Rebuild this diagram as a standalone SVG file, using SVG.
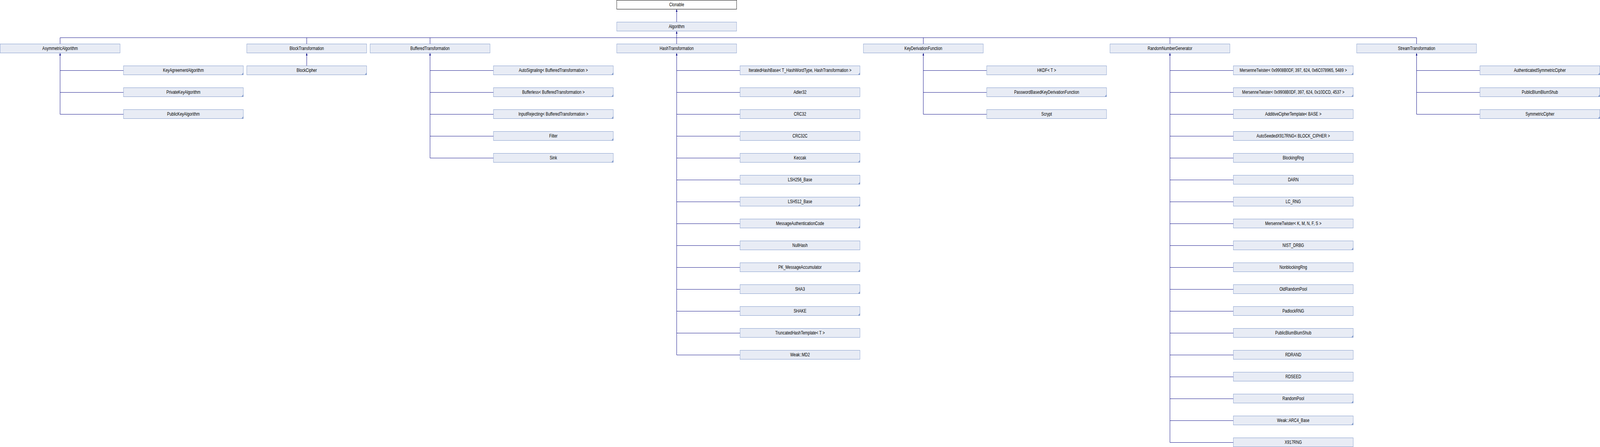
<svg xmlns="http://www.w3.org/2000/svg" xmlns:xlink="http://www.w3.org/1999/xlink" width="5099" height="1144" viewBox="0 0 5099 1144" preserveAspectRatio="none">
<style>
svg:root{width:100%;height:100%}
.n rect{fill:#E8ECF5;stroke:#849CCC;stroke-width:1}
.root rect{fill:#FFFFFF;stroke:#000000;stroke-width:1}
text{font-family:"Liberation Sans",Arial,sans-serif;font-size:12px;fill:#000000;text-anchor:middle}
.c path{fill:none;stroke:#000080;stroke-width:1}
.mk{fill:#849CCC}
.ar{fill:#000080}
</style>
<defs>
<path id="mk" d="M0,0 L0,-6 L-6,0 Z"/>
<path id="ar" d="M0,0.5 L-2.5,6.5 L2.5,6.5 Z"/>
</defs>
<rect x="0" y="0" width="5099" height="1144" fill="#FFFFFF"/>
<g id="connectors" class="c">
<path d="M2156.5,24 V56.5"/>
<path d="M2156.5,80 V96.5"/>
<path d="M191.5,96.5 H4514.5"/>
<path d="M191.5,96.5 V112.5 M977.5,96.5 V112.5 M1370.5,96.5 V112.5 M2156.5,96.5 V112.5 M2942.5,96.5 V112.5 M3728.5,96.5 V112.5 M4514.5,96.5 V112.5"/>
<path d="M191.5,136 V292.5 M191.5,180.5 H393.5 M191.5,236.5 H393.5 M191.5,292.5 H393.5"/>
<path d="M977.5,136 V168.5"/>
<path d="M1370.5,136 V404.5 M1370.5,180.5 H1572.5 M1370.5,236.5 H1572.5 M1370.5,292.5 H1572.5 M1370.5,348.5 H1572.5 M1370.5,404.5 H1572.5"/>
<path d="M2156.5,136 V908.5 M2156.5,180.5 H2358.5 M2156.5,236.5 H2358.5 M2156.5,292.5 H2358.5 M2156.5,348.5 H2358.5 M2156.5,404.5 H2358.5 M2156.5,460.5 H2358.5 M2156.5,516.5 H2358.5 M2156.5,572.5 H2358.5 M2156.5,628.5 H2358.5 M2156.5,684.5 H2358.5 M2156.5,740.5 H2358.5 M2156.5,796.5 H2358.5 M2156.5,852.5 H2358.5 M2156.5,908.5 H2358.5"/>
<path d="M2942.5,136 V292.5 M2942.5,180.5 H3144.5 M2942.5,236.5 H3144.5 M2942.5,292.5 H3144.5"/>
<path d="M3728.5,136 V1132.5 M3728.5,180.5 H3930.5 M3728.5,236.5 H3930.5 M3728.5,292.5 H3930.5 M3728.5,348.5 H3930.5 M3728.5,404.5 H3930.5 M3728.5,460.5 H3930.5 M3728.5,516.5 H3930.5 M3728.5,572.5 H3930.5 M3728.5,628.5 H3930.5 M3728.5,684.5 H3930.5 M3728.5,740.5 H3930.5 M3728.5,796.5 H3930.5 M3728.5,852.5 H3930.5 M3728.5,908.5 H3930.5 M3728.5,964.5 H3930.5 M3728.5,1020.5 H3930.5 M3728.5,1076.5 H3930.5 M3728.5,1132.5 H3930.5"/>
<path d="M4514.5,136 V292.5 M4514.5,180.5 H4716.5 M4514.5,236.5 H4716.5 M4514.5,292.5 H4716.5"/>
<use xlink:href="#ar" href="#ar" class="ar" x="2156.5" y="23.5"/>
<use xlink:href="#ar" href="#ar" class="ar" x="2156.5" y="79.5"/>
<use xlink:href="#ar" href="#ar" class="ar" x="191.5" y="135.5"/>
<use xlink:href="#ar" href="#ar" class="ar" x="977.5" y="135.5"/>
<use xlink:href="#ar" href="#ar" class="ar" x="1370.5" y="135.5"/>
<use xlink:href="#ar" href="#ar" class="ar" x="2156.5" y="135.5"/>
<use xlink:href="#ar" href="#ar" class="ar" x="2942.5" y="135.5"/>
<use xlink:href="#ar" href="#ar" class="ar" x="3728.5" y="135.5"/>
<use xlink:href="#ar" href="#ar" class="ar" x="4514.5" y="135.5"/>
</g>
<g id="Clonable" class="root"><rect x="1965.5" y="0.5" width="382" height="23"/><text x="2156.5" y="16.5">Clonable</text></g>
<g id="Algorithm" class="n"><rect x="1965.5" y="56.5" width="382" height="23"/><text x="2156.5" y="72.5">Algorithm</text></g>
<g id="AsymmetricAlgorithm" class="n"><rect x="0.5" y="112.5" width="382" height="23"/><text x="191.5" y="128.5">AsymmetricAlgorithm</text></g>
<g id="BlockTransformation" class="n"><rect x="786.5" y="112.5" width="382" height="23"/><text x="977.5" y="128.5">BlockTransformation</text></g>
<g id="BufferedTransformation" class="n"><rect x="1179.5" y="112.5" width="382" height="23"/><text x="1370.5" y="128.5">BufferedTransformation</text></g>
<g id="HashTransformation" class="n"><rect x="1965.5" y="112.5" width="382" height="23"/><text x="2156.5" y="128.5">HashTransformation</text></g>
<g id="KeyDerivationFunction" class="n"><rect x="2751.5" y="112.5" width="382" height="23"/><text x="2942.5" y="128.5">KeyDerivationFunction</text></g>
<g id="RandomNumberGenerator" class="n"><rect x="3537.5" y="112.5" width="382" height="23"/><text x="3728.5" y="128.5">RandomNumberGenerator</text></g>
<g id="StreamTransformation" class="n"><rect x="4323.5" y="112.5" width="382" height="23"/><text x="4514.5" y="128.5">StreamTransformation</text></g>

<g id="KeyAgreementAlgorithm" class="n"><rect x="393.5" y="168.5" width="382" height="23"/><text x="584.5" y="184.5">KeyAgreementAlgorithm</text><use href="#mk" xlink:href="#mk" class="mk" x="775.5" y="191.5"/></g>
<g id="PrivateKeyAlgorithm" class="n"><rect x="393.5" y="224.5" width="382" height="23"/><text x="584.5" y="240.5">PrivateKeyAlgorithm</text><use href="#mk" xlink:href="#mk" class="mk" x="775.5" y="247.5"/></g>
<g id="PublicKeyAlgorithm" class="n"><rect x="393.5" y="280.5" width="382" height="23"/><text x="584.5" y="296.5">PublicKeyAlgorithm</text><use href="#mk" xlink:href="#mk" class="mk" x="775.5" y="303.5"/></g>

<g id="BlockCipher" class="n"><rect x="786.5" y="168.5" width="382" height="23"/><text x="977.5" y="184.5">BlockCipher</text><use href="#mk" xlink:href="#mk" class="mk" x="1168.5" y="191.5"/></g>

<g id="AutoSignaling" class="n"><rect x="1572.5" y="168.5" width="382" height="23"/><text x="1763.5" y="184.5">AutoSignaling&lt; BufferedTransformation &gt;</text><use href="#mk" xlink:href="#mk" class="mk" x="1954.5" y="191.5"/></g>
<g id="Bufferless" class="n"><rect x="1572.5" y="224.5" width="382" height="23"/><text x="1763.5" y="240.5">Bufferless&lt; BufferedTransformation &gt;</text><use href="#mk" xlink:href="#mk" class="mk" x="1954.5" y="247.5"/></g>
<g id="InputRejecting" class="n"><rect x="1572.5" y="280.5" width="382" height="23"/><text x="1763.5" y="296.5">InputRejecting&lt; BufferedTransformation &gt;</text><use href="#mk" xlink:href="#mk" class="mk" x="1954.5" y="303.5"/></g>
<g id="Filter" class="n"><rect x="1572.5" y="336.5" width="382" height="23"/><text x="1763.5" y="352.5">Filter</text><use href="#mk" xlink:href="#mk" class="mk" x="1954.5" y="359.5"/></g>
<g id="Sink" class="n"><rect x="1572.5" y="392.5" width="382" height="23"/><text x="1763.5" y="408.5">Sink</text><use href="#mk" xlink:href="#mk" class="mk" x="1954.5" y="415.5"/></g>

<g id="IteratedHashBase" class="n"><rect x="2358.5" y="168.5" width="382" height="23"/><text x="2549.5" y="184.5">IteratedHashBase&lt; T_HashWordType, HashTransformation &gt;</text><use href="#mk" xlink:href="#mk" class="mk" x="2740.5" y="191.5"/></g>
<g id="Adler32" class="n"><rect x="2358.5" y="224.5" width="382" height="23"/><text x="2549.5" y="240.5">Adler32</text></g>
<g id="CRC32" class="n"><rect x="2358.5" y="280.5" width="382" height="23"/><text x="2549.5" y="296.5">CRC32</text></g>
<g id="CRC32C" class="n"><rect x="2358.5" y="336.5" width="382" height="23"/><text x="2549.5" y="352.5">CRC32C</text></g>
<g id="Keccak" class="n"><rect x="2358.5" y="392.5" width="382" height="23"/><text x="2549.5" y="408.5">Keccak</text><use href="#mk" xlink:href="#mk" class="mk" x="2740.5" y="415.5"/></g>
<g id="LSH256_Base" class="n"><rect x="2358.5" y="448.5" width="382" height="23"/><text x="2549.5" y="464.5">LSH256_Base</text><use href="#mk" xlink:href="#mk" class="mk" x="2740.5" y="471.5"/></g>
<g id="LSH512_Base" class="n"><rect x="2358.5" y="504.5" width="382" height="23"/><text x="2549.5" y="520.5">LSH512_Base</text><use href="#mk" xlink:href="#mk" class="mk" x="2740.5" y="527.5"/></g>
<g id="MessageAuthenticationCode" class="n"><rect x="2358.5" y="560.5" width="382" height="23"/><text x="2549.5" y="576.5">MessageAuthenticationCode</text><use href="#mk" xlink:href="#mk" class="mk" x="2740.5" y="583.5"/></g>
<g id="NullHash" class="n"><rect x="2358.5" y="616.5" width="382" height="23"/><text x="2549.5" y="632.5">NullHash</text></g>
<g id="PK_MessageAccumulator" class="n"><rect x="2358.5" y="672.5" width="382" height="23"/><text x="2549.5" y="688.5">PK_MessageAccumulator</text><use href="#mk" xlink:href="#mk" class="mk" x="2740.5" y="695.5"/></g>
<g id="SHA3" class="n"><rect x="2358.5" y="728.5" width="382" height="23"/><text x="2549.5" y="744.5">SHA3</text><use href="#mk" xlink:href="#mk" class="mk" x="2740.5" y="751.5"/></g>
<g id="SHAKE" class="n"><rect x="2358.5" y="784.5" width="382" height="23"/><text x="2549.5" y="800.5">SHAKE</text><use href="#mk" xlink:href="#mk" class="mk" x="2740.5" y="807.5"/></g>
<g id="TruncatedHashTemplate" class="n"><rect x="2358.5" y="840.5" width="382" height="23"/><text x="2549.5" y="856.5">TruncatedHashTemplate&lt; T &gt;</text></g>
<g id="Weak_MD2" class="n"><rect x="2358.5" y="896.5" width="382" height="23"/><text x="2549.5" y="912.5">Weak::MD2</text></g>

<g id="HKDF" class="n"><rect x="3144.5" y="168.5" width="382" height="23"/><text x="3335.5" y="184.5">HKDF&lt; T &gt;</text></g>
<g id="PasswordBasedKeyDerivationFunction" class="n"><rect x="3144.5" y="224.5" width="382" height="23"/><text x="3335.5" y="240.5">PasswordBasedKeyDerivationFunction</text><use href="#mk" xlink:href="#mk" class="mk" x="3526.5" y="247.5"/></g>
<g id="Scrypt" class="n"><rect x="3144.5" y="280.5" width="382" height="23"/><text x="3335.5" y="296.5">Scrypt</text></g>

<g id="MersenneTwister_1" class="n"><rect x="3930.5" y="168.5" width="382" height="23"/><text x="4121.5" y="184.5">MersenneTwister&lt; 0x9908B0DF, 397, 624, 0x6C078965, 5489 &gt;</text><use href="#mk" xlink:href="#mk" class="mk" x="4312.5" y="191.5"/></g>
<g id="MersenneTwister_2" class="n"><rect x="3930.5" y="224.5" width="382" height="23"/><text x="4121.5" y="240.5">MersenneTwister&lt; 0x9908B0DF, 397, 624, 0x10DCD, 4537 &gt;</text><use href="#mk" xlink:href="#mk" class="mk" x="4312.5" y="247.5"/></g>
<g id="AdditiveCipherTemplate" class="n"><rect x="3930.5" y="280.5" width="382" height="23"/><text x="4121.5" y="296.5">AdditiveCipherTemplate&lt; BASE &gt;</text></g>
<g id="AutoSeededX917RNG" class="n"><rect x="3930.5" y="336.5" width="382" height="23"/><text x="4121.5" y="352.5">AutoSeededX917RNG&lt; BLOCK_CIPHER &gt;</text></g>
<g id="BlockingRng" class="n"><rect x="3930.5" y="392.5" width="382" height="23"/><text x="4121.5" y="408.5">BlockingRng</text></g>
<g id="DARN" class="n"><rect x="3930.5" y="448.5" width="382" height="23"/><text x="4121.5" y="464.5">DARN</text></g>
<g id="LC_RNG" class="n"><rect x="3930.5" y="504.5" width="382" height="23"/><text x="4121.5" y="520.5">LC_RNG</text></g>
<g id="MersenneTwister_3" class="n"><rect x="3930.5" y="560.5" width="382" height="23"/><text x="4121.5" y="576.5">MersenneTwister&lt; K, M, N, F, S &gt;</text></g>
<g id="NIST_DRBG" class="n"><rect x="3930.5" y="616.5" width="382" height="23"/><text x="4121.5" y="632.5">NIST_DRBG</text><use href="#mk" xlink:href="#mk" class="mk" x="4312.5" y="639.5"/></g>
<g id="NonblockingRng" class="n"><rect x="3930.5" y="672.5" width="382" height="23"/><text x="4121.5" y="688.5">NonblockingRng</text></g>
<g id="OldRandomPool" class="n"><rect x="3930.5" y="728.5" width="382" height="23"/><text x="4121.5" y="744.5">OldRandomPool</text></g>
<g id="PadlockRNG" class="n"><rect x="3930.5" y="784.5" width="382" height="23"/><text x="4121.5" y="800.5">PadlockRNG</text></g>
<g id="PublicBlumBlumShub_rng" class="n"><rect x="3930.5" y="840.5" width="382" height="23"/><text x="4121.5" y="856.5">PublicBlumBlumShub</text><use href="#mk" xlink:href="#mk" class="mk" x="4312.5" y="863.5"/></g>
<g id="RDRAND" class="n"><rect x="3930.5" y="896.5" width="382" height="23"/><text x="4121.5" y="912.5">RDRAND</text></g>
<g id="RDSEED" class="n"><rect x="3930.5" y="952.5" width="382" height="23"/><text x="4121.5" y="968.5">RDSEED</text></g>
<g id="RandomPool" class="n"><rect x="3930.5" y="1008.5" width="382" height="23"/><text x="4121.5" y="1024.5">RandomPool</text><use href="#mk" xlink:href="#mk" class="mk" x="4312.5" y="1031.5"/></g>
<g id="Weak_ARC4_Base" class="n"><rect x="3930.5" y="1064.5" width="382" height="23"/><text x="4121.5" y="1080.5">Weak::ARC4_Base</text><use href="#mk" xlink:href="#mk" class="mk" x="4312.5" y="1087.5"/></g>
<g id="X917RNG" class="n"><rect x="3930.5" y="1120.5" width="382" height="23"/><text x="4121.5" y="1136.5">X917RNG</text></g>

<g id="AuthenticatedSymmetricCipher" class="n"><rect x="4716.5" y="168.5" width="382" height="23"/><text x="4907.5" y="184.5">AuthenticatedSymmetricCipher</text><use href="#mk" xlink:href="#mk" class="mk" x="5098.5" y="191.5"/></g>
<g id="PublicBlumBlumShub_st" class="n"><rect x="4716.5" y="224.5" width="382" height="23"/><text x="4907.5" y="240.5">PublicBlumBlumShub</text><use href="#mk" xlink:href="#mk" class="mk" x="5098.5" y="247.5"/></g>
<g id="SymmetricCipher" class="n"><rect x="4716.5" y="280.5" width="382" height="23"/><text x="4907.5" y="296.5">SymmetricCipher</text><use href="#mk" xlink:href="#mk" class="mk" x="5098.5" y="303.5"/></g>
</svg>
